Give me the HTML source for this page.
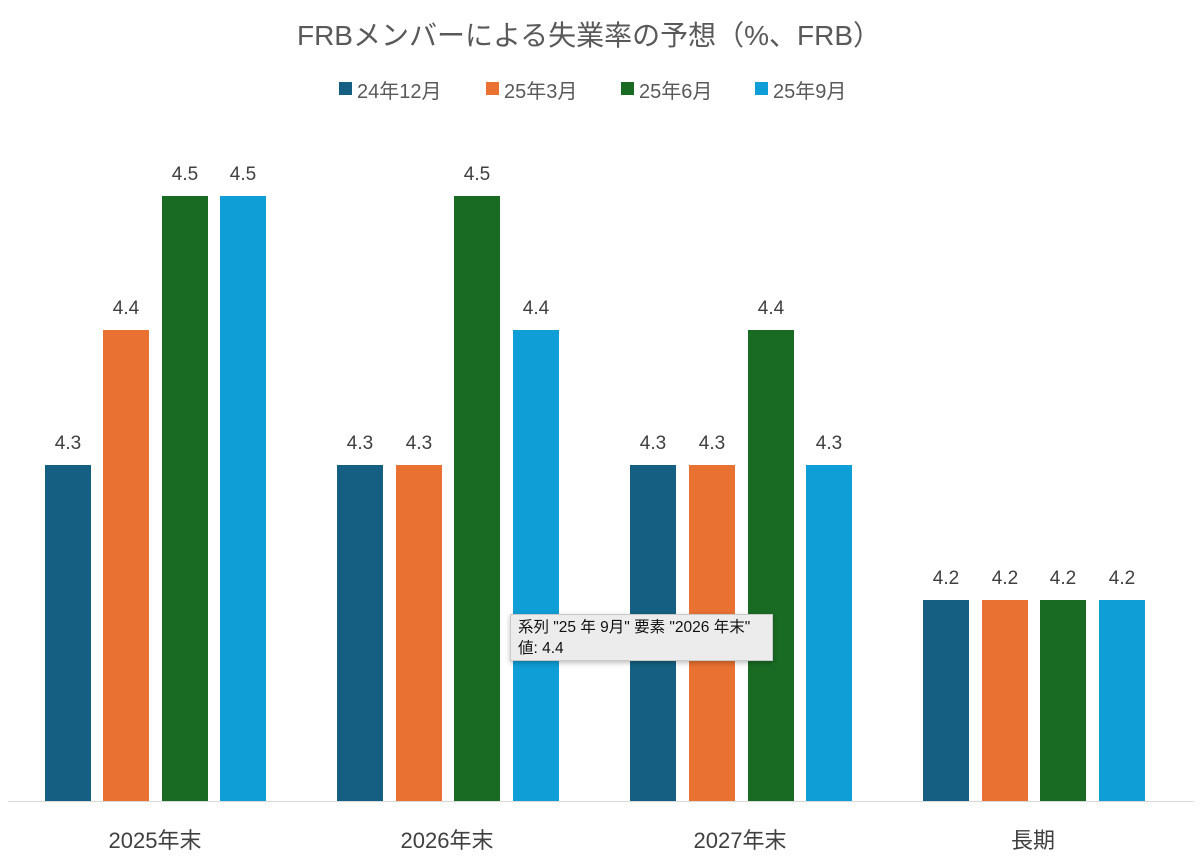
<!DOCTYPE html>
<html><head><meta charset="utf-8"><style>
body{margin:0;width:1200px;height:857px;background:#fff;position:relative;overflow:hidden;font-family:"Liberation Sans","Noto Sans CJK JP",sans-serif;color:#404040}
.t{position:absolute;white-space:nowrap}
.b{position:absolute;width:46px}
.v{position:absolute;width:60px;text-align:center;font-size:19px;color:#404040}
.c{position:absolute;width:200px;text-align:center;font-size:22px;color:#404040;top:823px}
.sq{position:absolute;width:13px;height:13px;top:82px}
.lg{position:absolute;font-size:20px;top:75px;color:#595959}
</style></head><body>
<div class="t" style="left:0;width:1178px;text-align:center;top:14px;font-size:28px;color:#595959">FRBメンバーによる失業率の予想（%、FRB）</div>
<div class="sq" style="left:339px;background:#156082"></div><div class="lg" style="left:357px">24年12月</div>
<div class="sq" style="left:486px;background:#E97132"></div><div class="lg" style="left:504px">25年3月</div>
<div class="sq" style="left:621px;background:#196B24"></div><div class="lg" style="left:639px">25年6月</div>
<div class="sq" style="left:755px;background:#0F9ED5"></div><div class="lg" style="left:773px">25年9月</div>
<div style="position:absolute;left:8px;width:1186px;top:801px;height:1px;background:#d9d9d9"></div>
<div id="bars"></div>
<script>
var cols=["#156082","#E97132","#196B24","#0F9ED5"];
var groups=[[45,103,162,220],[337,396,454,513],[630,689,748,806],[923,982,1040,1099]];
var vals=[[4.3,4.4,4.5,4.5],[4.3,4.3,4.5,4.4],[4.3,4.3,4.4,4.3],[4.2,4.2,4.2,4.2]];
var tops={"4.5":196,"4.4":330,"4.3":465,"4.2":600};
var h="";
for(var g=0;g<4;g++)for(var i=0;i<4;i++){var x=groups[g][i],v=vals[g][i],t=tops[v.toFixed(1)];
h+='<div class="b" style="left:'+x+'px;top:'+t+'px;height:'+(801-t)+'px;background:'+cols[i]+'"></div>';
h+='<div class="v" style="left:'+(x-7)+'px;top:'+(t-32)+'px">'+v.toFixed(1)+'</div>';}
var cl=["2025年末","2026年末","2027年末","長期"];
for(var g=0;g<4;g++){h+='<div class="c" style="left:'+(groups[g][0]+110-100)+'px">'+cl[g]+'</div>';}
document.getElementById("bars").innerHTML=h;
</script>
<div style="position:absolute;left:510px;top:614px;width:263px;height:47px;background:#ececec;border:1px solid #c8c8c8;box-shadow:0 2px 5px rgba(0,0,0,.25);font-size:15.5px;color:#111;line-height:21px;padding:2px 0 0 7px;box-sizing:border-box;white-space:nowrap">系列 "25 年 9月" 要素 "2026 年末"<br>値: 4.4</div>
</body></html>
